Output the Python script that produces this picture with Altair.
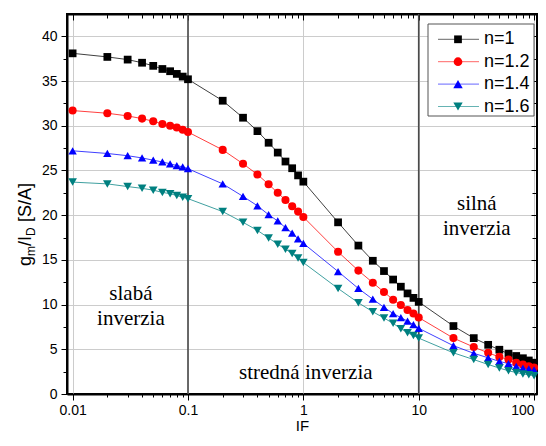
import altair as alt
import pandas as pd

# ---------------- data ----------------
IF = [0.01, 0.02, 0.03, 0.04, 0.05, 0.06, 0.07, 0.08, 0.09, 0.1,
      0.2, 0.3, 0.4, 0.5, 0.6, 0.7, 0.8, 0.9, 1,
      2, 3, 4, 5, 6, 7, 8, 9, 10,
      20, 30, 40, 50, 60, 70, 80, 90, 100]

n1 = [38.1, 37.7, 37.4, 37.05, 36.7, 36.35, 36.1, 35.8, 35.5, 35.2,
      32.8, 30.9, 29.4, 28.1, 27.0, 26.0, 25.25, 24.45, 23.75,
      19.2, 16.6, 14.9, 13.75, 12.8, 12.0, 11.25, 10.75, 10.3,
      7.6, 6.25, 5.5, 4.95, 4.5, 4.25, 4.0, 3.75, 3.5]
n12 = [31.7, 31.4, 31.1, 30.8, 30.5, 30.2, 30.0, 29.8, 29.55, 29.3,
       27.3, 25.75, 24.55, 23.45, 22.5, 21.7, 21.0, 20.4, 19.8,
       15.9, 13.8, 12.45, 11.4, 10.55, 9.95, 9.4, 9.0, 8.55,
       6.25, 5.25, 4.6, 4.15, 3.85, 3.5, 3.3, 3.1, 2.95]
n14 = [27.2, 26.9, 26.65, 26.4, 26.15, 25.95, 25.75, 25.55, 25.4, 25.2,
       23.5, 22.1, 21.05, 20.05, 19.35, 18.6, 18.0, 17.35, 16.85,
       13.7, 11.8, 10.6, 9.7, 9.0, 8.55, 8.15, 7.75, 7.35,
       5.4, 4.55, 4.05, 3.65, 3.4, 3.1, 2.9, 2.8, 2.7]
n16 = [23.7, 23.5, 23.2, 23.0, 22.8, 22.55, 22.4, 22.2, 22.0, 21.85,
       20.4, 19.2, 18.3, 17.45, 16.75, 16.2, 15.7, 15.2, 14.7,
       11.8, 10.2, 9.2, 8.5, 7.9, 7.3, 6.85, 6.55, 6.25,
       4.6, 3.85, 3.3, 2.9, 2.6, 2.4, 2.25, 2.15, 2.05]

series_names = ["n=1", "n=1.2", "n=1.4", "n=1.6"]
series_vals = [n1, n12, n14, n16]
colors = ["#000000", "#ff0000", "#0000ff", "#008080"]
shapes = ["square", "circle", "triangle-up", "triangle-down"]
sizes = [60, 75, 88, 88]

x_ticks = [0.01, 0.02, 0.03, 0.04, 0.05, 0.06, 0.07, 0.08, 0.09,
           0.1, 0.2, 0.3, 0.4, 0.5, 0.6, 0.7, 0.8, 0.9,
           1, 2, 3, 4, 5, 6, 7, 8, 9,
           10, 20, 30, 40, 50, 60, 70, 80, 90, 100]
y_ticks = [0, 2.5, 5, 7.5, 10, 12.5, 15, 17.5, 20, 22.5, 25, 27.5,
           30, 32.5, 35, 37.5, 40]
region_bounds = [0.1, 10]

annot_x = [0.032, 0.032, 1.05, 31.9, 31.9]
annot_y = [11.2, 8.4, 2.35, 21.3, 18.4]
annot_text = ["slabá", "inverzia", "stredná inverzia", "silná", "inverzia"]

rows = []
for name, vals in zip(series_names, series_vals):
    for xv, yv in zip(IF, vals):
        rows.append({"IF": xv, "g": yv, "n": name})
df = pd.DataFrame(rows)

# ---------------- layout ----------------
W, H = 470, 380
FONT = "Liberation Sans"
SERIF = "Liberation Serif"

xscale = alt.Scale(type="log", domain=[0.00894, 106], nice=False)
yscale = alt.Scale(domain=[0, 42.5], nice=False, zero=False)
cscale = alt.Scale(domain=series_names, range=colors)
sscale = alt.Scale(domain=series_names, range=shapes)
zscale = alt.Scale(domain=series_names, range=sizes)

XMAJ = "abs(log(datum.value)/LN10 - round(log(datum.value)/LN10)) < 1e-6"
YMAJ = "datum.value % 5 == 0"

ax_bottom = alt.Axis(
    orient="bottom", values=x_ticks,
    labelExpr=f"({XMAJ}) ? format(datum.value, '~g') : ''",
    tickSize={"condition": {"test": XMAJ, "value": 6}, "value": 3},
    grid=True,
    gridOpacity={"condition": {"test": XMAJ, "value": 1}, "value": 0},
    labelOverlap=False, labelFlush=3, labelPadding=3,
    title="IF", titleFontSize=15, titleFont=FONT, titleFontWeight="normal",
    titlePadding=1, titleColor="#000",
)
ax_left = alt.Axis(
    orient="left", values=y_ticks,
    labelExpr=f"({YMAJ}) ? format(datum.value, 'd') : ''",
    tickSize={"condition": {"test": YMAJ, "value": 6}, "value": 4},
    grid=True,
    gridOpacity={"condition": {"test": YMAJ, "value": 1}, "value": 0},
    labelOverlap=False, labelFlush=False, labelPadding=4, title=None,
)
ax_top = alt.Axis(
    orient="top", values=x_ticks, labels=False, grid=False, title=None,
    tickSize={"condition": {"test": XMAJ, "value": -6}, "value": -4},
)
ax_right = alt.Axis(
    orient="right", values=y_ticks, labels=False, grid=False, title=None,
    tickSize={"condition": {"test": YMAJ, "value": -6}, "value": -5},
)

# region boundary lines
vrules = alt.Chart(pd.DataFrame({"IF": region_bounds})).mark_rule(
    color="#4a4a4a", strokeWidth=1.6
).encode(x=alt.X("IF:Q", scale=xscale, axis=None))

lines = alt.Chart(df).mark_line(strokeWidth=1, opacity=0.75).encode(
    x=alt.X("IF:Q", scale=xscale, axis=ax_bottom),
    y=alt.Y("g:Q", scale=yscale, axis=ax_left),
    color=alt.Color("n:N", scale=cscale, legend=None),
    detail="n:N",
)

points = alt.Chart(df).mark_point(filled=True, opacity=1, strokeWidth=0).encode(
    x=alt.X("IF:Q", scale=xscale, axis=ax_top),
    y=alt.Y("g:Q", scale=yscale, axis=ax_right),
    color=alt.Color("n:N", scale=cscale, legend=None),
    shape=alt.Shape("n:N", scale=sscale, legend=None),
    size=alt.Size("n:N", scale=zscale, legend=None),
)

annots = alt.Chart(pd.DataFrame({"x": annot_x, "y": annot_y, "t": annot_text})).mark_text(
    font=SERIF, fontSize=21, color="#000", align="center", baseline="middle"
).encode(
    x=alt.X("x:Q", scale=xscale, axis=None),
    y=alt.Y("y:Q", scale=yscale, axis=None),
    text="t:N",
)

one = pd.DataFrame({"a": [0]})

# legend
LX0, LX1, LY0, LY1 = 361, 467, 10, 102
legend_layers = [
    alt.Chart(one).mark_rect(fill="white", stroke="#555", strokeWidth=1).encode(
        x=alt.value(LX0), x2=alt.value(LX1), y=alt.value(LY0), y2=alt.value(LY1)
    )
]
row_y = [25.3, 47.7, 70.1, 92.5]
for name, col, shp, sz, ry in zip(series_names, colors, shapes, sizes, row_y):
    legend_layers.append(
        alt.Chart(one).mark_rule(color=col, strokeWidth=1, opacity=0.6).encode(
            x=alt.value(371), x2=alt.value(412), y=alt.value(ry)
        )
    )
    legend_layers.append(
        alt.Chart(one).mark_point(filled=True, opacity=1, strokeWidth=0).encode(
            x=alt.value(391), y=alt.value(ry), shape=alt.value(shp),
            color=alt.value(col), size=alt.value(sz)
        )
    )
    legend_layers.append(
        alt.Chart(one).mark_text(
            text=name, font=FONT, fontSize=18, color="#000",
            align="left", baseline="middle"
        ).encode(x=alt.value(417), y=alt.value(ry))
    )

# y title with subscripts: g_m / I_D [S/A]
title_parts = [("g", 18, 252, 0), ("m", 12, 242, 4), ("/I", 18, 232, 0),
               ("D", 12, 222, 4), ("[S/A]", 18, 208, 0)]
title_layers = []
for txt, fs, ty, sub in title_parts:
    title_layers.append(
        alt.Chart(one).mark_text(
            text=txt, font=FONT, fontSize=fs, color="#000", angle=270,
            align="left", baseline="alphabetic"
        ).encode(x=alt.value(-36 + sub), y=alt.value(ty))
    )

chart = alt.layer(
    vrules, lines, points, annots, *legend_layers, *title_layers
).resolve_axis(
    x="independent", y="independent"
).properties(
    width=W, height=H,
    padding={"left": 59, "top": 6, "right": 1, "bottom": 42},
    autosize=alt.AutoSizeParams(type="none"),
).configure_view(
    stroke="#000", strokeWidth=2
).configure_axis(
    labelFont=FONT, labelFontSize=14, labelColor="#000",
    tickColor="#000", tickWidth=1, domainColor="#000", domainWidth=2,
    gridColor="#cccccc", gridWidth=1,
)

chart.save("out.html", embed_options={"renderer": "svg", "actions": False})
